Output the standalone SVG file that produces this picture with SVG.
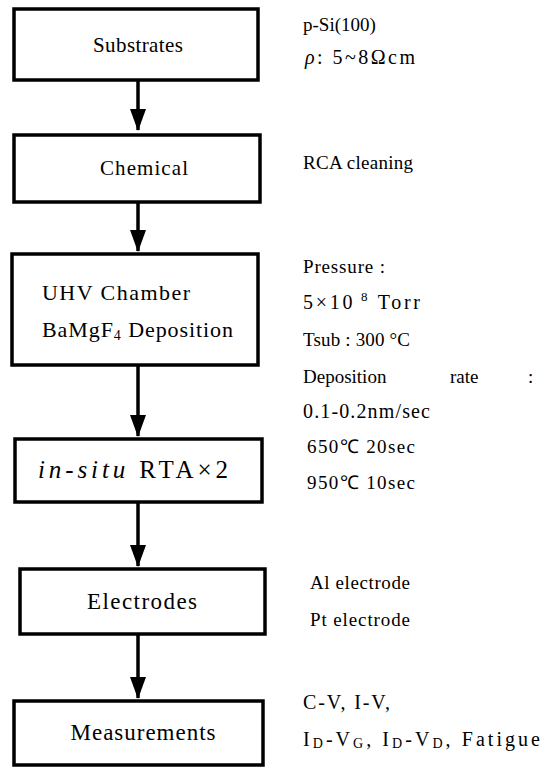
<svg xmlns="http://www.w3.org/2000/svg" width="553" height="768" viewBox="0 0 553 768">
<style>
.box{fill:#fff;stroke:#000;stroke-width:3.5}
.t{font-family:"Liberation Serif","Times New Roman",serif;font-size:19px;fill:#000}
.b{font-size:21px}
.c{text-anchor:middle}
.sh{stroke:#000;stroke-width:3.5;fill:none}
</style>
<defs>
<marker id="ah" markerUnits="userSpaceOnUse" markerWidth="22" markerHeight="16" refX="21" refY="8" orient="auto" viewBox="0 0 22 16">
<path d="M0,0 L22,8 L0,16 Z" fill="#000"/>
</marker>
</defs>
<g id="connectors">
<line class="sh" x1="138" y1="80" x2="138" y2="130" marker-end="url(#ah)"/>
<line class="sh" x1="138" y1="202" x2="138" y2="251" marker-end="url(#ah)"/>
<line class="sh" x1="138" y1="365" x2="138" y2="436" marker-end="url(#ah)"/>
<line class="sh" x1="138" y1="502" x2="138" y2="566" marker-end="url(#ah)"/>
<line class="sh" x1="138" y1="634" x2="138" y2="698" marker-end="url(#ah)"/>
</g>
<g id="substrates">
<rect class="box" x="14" y="9" width="244" height="71"/>
<text class="t b c" x="138" y="52" textLength="90">Substrates</text>
<text class="t" x="303" y="31">p-Si(100)</text>
<text class="t" x="305" y="64" style="font-size:20px" textLength="110"><tspan font-style="italic">ρ</tspan>: 5~8Ωcm</text>
</g>
<g id="chemical">
<rect class="box" x="14" y="135" width="246" height="67"/>
<text class="t b c" x="144" y="175" textLength="88">Chemical</text>
<text class="t" x="303" y="169" textLength="110">RCA cleaning</text>
</g>
<g id="uhv">
<rect class="box" x="12" y="254" width="246" height="111"/>
<text class="t" x="42" y="300" style="font-size:22px" textLength="148">UHV Chamber</text>
<text class="t" x="42" y="337" style="font-size:22px" textLength="191">BaMgF<tspan style="font-size:14px" dy="3">4</tspan><tspan dy="-3"> Deposition</tspan></text>
<text class="t" x="303" y="273" textLength="82">Pressure :</text>
<text class="t" x="303" y="309" style="font-size:20px" textLength="117">5×10<tspan style="font-size:13px" dy="-8"> 8</tspan><tspan dy="8"> Torr</tspan></text>
<text class="t" x="303" y="346" textLength="107">Tsub : 300 °C</text>
<text class="t" x="303" y="383">Deposition</text>
<text class="t" x="450" y="383">rate</text>
<text class="t" x="528" y="383">:</text>
<text class="t" x="303" y="418" style="font-size:20px" textLength="127">0.1-0.2nm/sec</text>
<text class="t" x="307" y="453" textLength="108">650℃ 20sec</text>
<text class="t" x="307" y="489" textLength="108">950℃ 10sec</text>
</g>
<g id="rta">
<rect class="box" x="15" y="439" width="247" height="63"/>
<text class="t" x="38" y="478" style="font-size:25px" textLength="190"><tspan font-style="italic">in-situ</tspan> RTA×2</text>
</g>
<g id="electrodes">
<rect class="box" x="20" y="569" width="245" height="65"/>
<text class="t c" x="142" y="609" style="font-size:23px" textLength="110">Electrodes</text>
<text class="t" x="310" y="589" textLength="100">Al electrode</text>
<text class="t" x="310" y="626" textLength="100">Pt electrode</text>
</g>
<g id="measurements">
<rect class="box" x="14" y="701" width="249" height="64"/>
<text class="t c" x="143" y="740" style="font-size:23px" textLength="145">Measurements</text>
<text class="t" x="303" y="709" style="font-size:20px" textLength="87">C-V, I-V,</text>
<text class="t" x="303" y="746" style="font-size:20px" textLength="237">I<tspan style="font-size:14px" dy="2">D</tspan><tspan dy="-2">-V</tspan><tspan style="font-size:14px" dy="2">G</tspan><tspan dy="-2">, I</tspan><tspan style="font-size:14px" dy="2">D</tspan><tspan dy="-2">-V</tspan><tspan style="font-size:14px" dy="2">D</tspan><tspan dy="-2">, Fatigue</tspan></text>
</g>
</svg>
